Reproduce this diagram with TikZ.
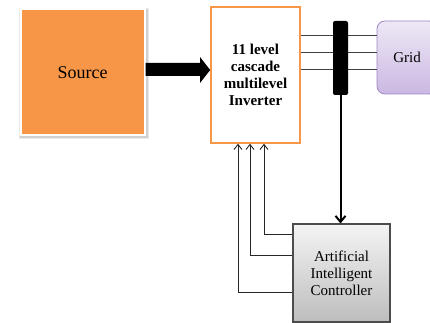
\documentclass[tikz,border=0pt]{standalone}
\usepackage{fontspec}
\setmainfont{Liberation Serif}
\usetikzlibrary{arrows.meta}
\definecolor{srcorange}{HTML}{F79646}
\definecolor{gridtop}{HTML}{EEE8F6}
\definecolor{gridbot}{HTML}{CBB8E2}
\definecolor{gridline}{HTML}{9F86C4}
\definecolor{ctrltop}{HTML}{F4F4F4}
\definecolor{ctrlbot}{HTML}{BDBDBD}
\tikzset{
  srcbox/.style={draw=white, line width=2pt, fill=srcorange, minimum width=124pt, minimum height=126pt,
    font=\fontsize{18}{20}\selectfont},
  invbox/.style={draw=srcorange, line width=1.6pt, fill=white, minimum width=89pt, minimum height=136pt,
    align=center, font=\fontsize{15}{17}\selectfont\bfseries},
  busbar/.style={fill=black, rounded corners=2pt, minimum width=15pt, minimum height=74pt, inner sep=0pt},
  gridbox/.style={draw=gridline, line width=0.8pt, top color=gridtop, bottom color=gridbot, rounded corners=8pt,
    minimum width=60pt, minimum height=73pt, font=\fontsize{15}{17}\selectfont},
  ctrlbox/.style={draw=black!70, line width=1.1pt, top color=ctrltop, bottom color=ctrlbot,
    minimum width=97pt, minimum height=98pt, align=center, font=\fontsize{15}{17}\selectfont},
  phase/.style={draw=black!75, line width=0.9pt},
  fb/.style={draw=black!85, line width=0.9pt, -{Straight Barb[length=5pt,width=8pt]}},
  downarrow/.style={line width=2pt, -{Straight Barb[length=6pt,width=10pt]}}
}
\begin{document}
\begin{tikzpicture}[x=1pt,y=-1pt]
\useasboundingbox (0,0) rectangle (430,323);
\clip (0,0) rectangle (430,323);
% shadow behind the source box
\fill[black!8] (18.5,8.5) rectangle (149,139.5);
\fill[black!18] (19.5,9.5) rectangle (147.5,138);
\node[srcbox] (src) at (82.5,72.5) {Source};
\node[gridbox] (grid) at (407,57.5) {Grid};
\node[invbox] (inv) at (255.5,75) {11 level\\cascade\\multilevel\\Inverter};
\node[ctrlbox] (ctrl) at (341.5,273) {Artificial\\Intelligent\\Controller};
\draw[phase] (inv.east |- 0,35) -- (grid.west |- 0,35);
\draw[phase] (inv.east |- 0,52) -- (grid.west |- 0,52);
\draw[phase] (inv.east |- 0,69) -- (grid.west |- 0,69);
\node[busbar] (bus) at (340.5,58) {};
% big source arrow
\fill (src.east |- 0,63) -- (200,63) -- (200,57) -- (inv.west |- 0,70) -- (200,83) -- (200,76) -- (src.east |- 0,76) -- cycle;
\draw[downarrow] (bus.south) -- (bus.south |- ctrl.north);
\draw[fb] (ctrl.west |- 0,234) -| (264,0 |- inv.south);
\draw[fb] (ctrl.west |- 0,255) -| (250,0 |- inv.south);
\draw[fb] (ctrl.west |- 0,292) -| (238,0 |- inv.south);
\end{tikzpicture}
\end{document}
